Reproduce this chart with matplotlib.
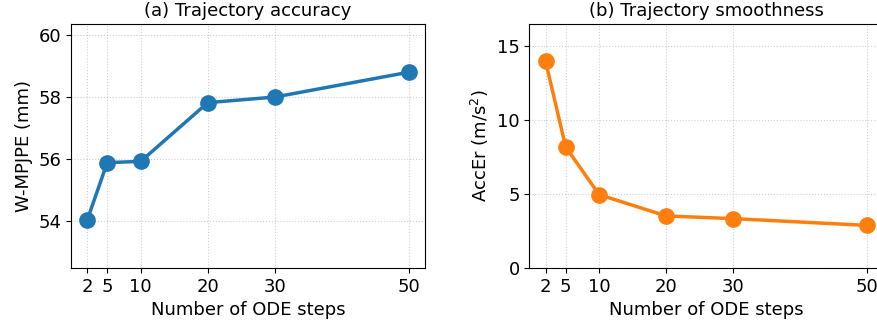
import matplotlib
matplotlib.use('Agg')
import matplotlib.pyplot as plt

# Data
steps = [2, 5, 10, 20, 30, 50]
wmpjpe = [54.03, 55.89, 55.93, 57.82, 58.0, 58.8]
accer = [13.98, 8.19, 4.96, 3.52, 3.34, 2.88]

W, H = 878, 327
fig = plt.figure(figsize=(W / 100, H / 100), dpi=100)

# axes boxes in pixels: left, top, right, bottom
def box(l, t, r, b):
    return [l / W, 1 - b / H, (r - l) / W, (b - t) / H]

ax1 = fig.add_axes(box(71, 24, 425, 268))
ax2 = fig.add_axes(box(529.5, 24, 883, 268))

fs = 13
ax1.plot(steps, wmpjpe, color='tab:blue', marker='o', linewidth=2.5, markersize=11)
ax1.set_ylim(52.5, 60.35)
ax1.set_yticks([54, 56, 58, 60])
ax1.set_ylabel('W-MPJPE (mm)', fontsize=fs)
ax1.set_title('(a) Trajectory accuracy', fontsize=fs)

ax2.plot(steps, accer, color='tab:orange', marker='o', linewidth=2.5, markersize=11)
ax2.set_ylim(0, 16.5)
ax2.set_yticks([0, 5, 10, 15])
ax2.set_ylabel('AccEr (m/s$^2$)', fontsize=fs)
ax2.set_title('(b) Trajectory smoothness', fontsize=fs)

for ax in (ax1, ax2):
    ax.set_xticks(steps)
    ax.set_xlabel('Number of ODE steps', fontsize=fs)
    ax.tick_params(labelsize=fs)
    ax.grid(True, linestyle=':', alpha=0.6)

fig.savefig('out.png', dpi=100)
